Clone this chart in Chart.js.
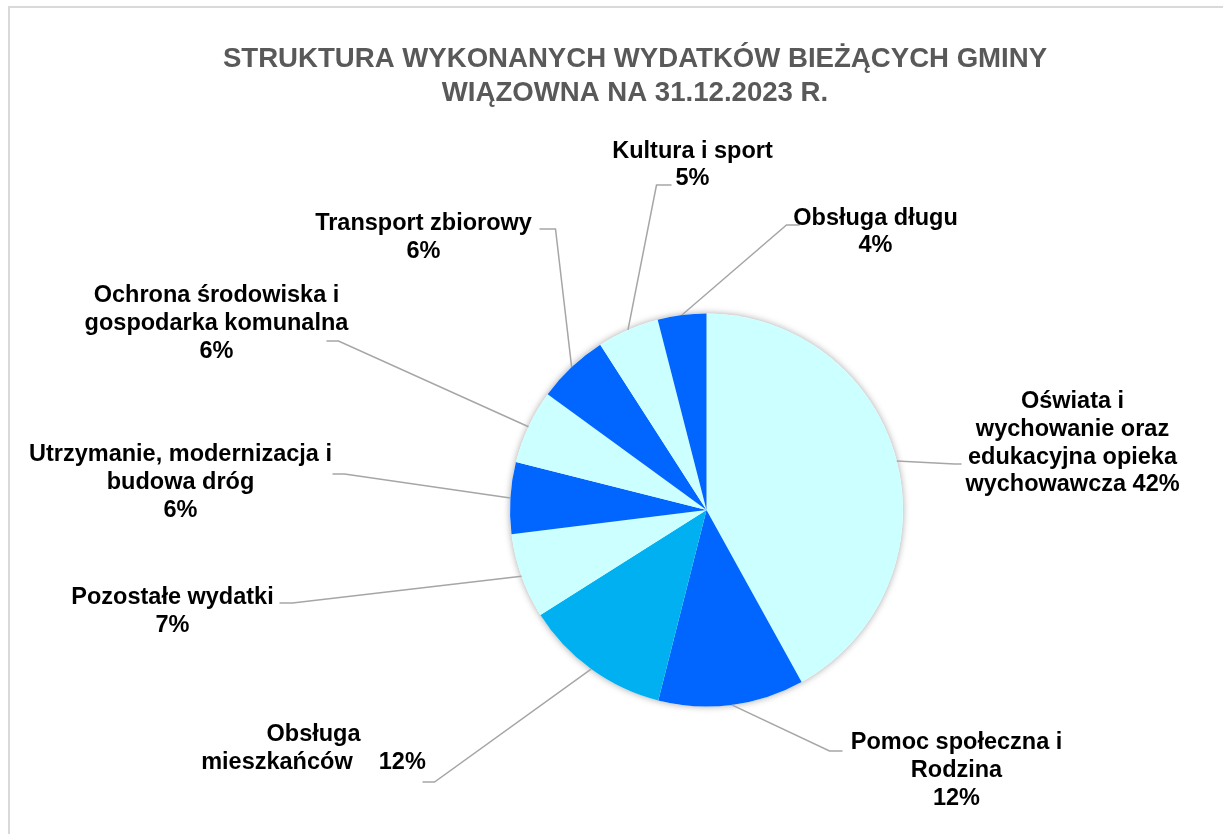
<!DOCTYPE html>
<html>
<head>
<meta charset="utf-8">
<title>Struktura wydatków bieżących – Gmina Wiązowna 2023</title>
<script src="https://cdn.jsdelivr.net/npm/chart.js@4.4.1/dist/chart.umd.min.js"></script>
<style>
    html, body { margin: 0; padding: 0; background: #fff; overflow: hidden; }
    #frame { position: absolute; left: 8px; top: 6px; width: 1300px; height: 900px; border: 2px solid #d9d9d9; box-sizing: border-box; }
    #chart { position: absolute; left: 0; top: 0; }
</style>
</head>
<body>
<div id="frame"></div>
<canvas id="chart" width="1223" height="834"></canvas>
<script>
// Chart title, two lines as in the original
const titleLines = ['STRUKTURA WYKONANYCH WYDATKÓW BIEŻĄCYCH GMINY', 'WIĄZOWNA NA 31.12.2023 R.'];

// Categories, wrapped the same way as the original data labels
const categories = [
    ['Oświata i', 'wychowanie oraz', 'edukacyjna opieka', 'wychowawcza'],
    ['Pomoc społeczna i', 'Rodzina'],
    ['Obsługa', 'mieszkańców'],
    ['Pozostałe wydatki'],
    ['Utrzymanie, modernizacja i', 'budowa dróg'],
    ['Ochrona środowiska i', 'gospodarka komunalna'],
    ['Transport zbiorowy'],
    ['Kultura i sport'],
    ['Obsługa długu']
];

// Share of current expenditure (%)
const shares = [42.0, 12.0, 12.1, 7.0, 5.9, 6.1, 5.9, 5.1, 4.0];

const sliceColors = ['#CCFFFF', '#0066FF', '#00B0F0', '#CCFFFF', '#0066FF', '#CCFFFF', '#0066FF', '#CCFFFF', '#0066FF'];

const labelFont = "bold 23.5px 'Liberation Sans', Arial, sans-serif";
const titleFont = "bold 27.6px 'Liberation Sans', Arial, sans-serif";
const lineH = 27.8;

// Label placement relative to the pie centre (px)
// tx/ty: text anchor (first baseline), pct: how the % joins the text (null = own line)
// ex/ey: leader elbow, hx: end of the short horizontal tick
const labelLayout = [
    { tx: 366, ty: -102, pct: ' ', ex: 248, ey: -46, hx: 255 },
    { tx: 250, ty: 239, pct: null, ex: 123, ey: 241, hx: 136 },
    { tx: -393, ty: 231, pct: '    ', ex: -272, ey: 272, hx: -284 },
    { tx: -534, ty: 94, pct: null, ex: -414, ey: 93, hx: -427 },
    { tx: -526, ty: -49, pct: null, ex: -362, ey: -36, hx: -374 },
    { tx: -490, ty: -208, pct: null, ex: -368, ey: -169, hx: -380 },
    { tx: -283, ty: -280, pct: null, ex: -151, ey: -281, hx: -167 },
    { tx: -14, ty: -352.5, pct: null, ex: -50, ey: -325, hx: -35 },
    { tx: 169, ty: -285.5, pct: null, ex: 80, ey: -285, hx: 93 }
];

// Soft shadow behind the whole pie
const pieShadow = {
    id: 'pieShadow',
    beforeDatasetsDraw(chart) {
        const arc = chart.getDatasetMeta(0).data[0];
        if (!arc) return;
        const ctx = chart.ctx;
        ctx.save();
        ctx.shadowColor = 'rgba(0, 0, 0, 0.35)';
        ctx.shadowBlur = 7;
        ctx.fillStyle = '#ffffff';
        ctx.beginPath();
        ctx.arc(arc.x, arc.y, arc.outerRadius, 0, Math.PI * 2);
        ctx.fill();
        ctx.restore();
    }
};

// Data labels with leader lines
const pieLabels = {
    id: 'pieLabels',
    afterDatasetsDraw(chart) {
        const ctx = chart.ctx;
        const total = shares.reduce((a, b) => a + b, 0);
        chart.getDatasetMeta(0).data.forEach((arc, i) => {
            const { x, y, startAngle, endAngle, outerRadius } = arc;
            const mid = (startAngle + endAngle) / 2;
            const L = labelLayout[i];

            ctx.save();
            ctx.strokeStyle = '#a6a6a6';
            ctx.lineWidth = 1.5;
            ctx.beginPath();
            ctx.moveTo(x + Math.cos(mid) * outerRadius, y + Math.sin(mid) * outerRadius);
            ctx.lineTo(x + L.ex, y + L.ey);
            ctx.lineTo(x + L.hx, y + L.ey);
            ctx.stroke();

            const pct = Math.round(shares[i] / total * 100) + '%';
            const lines = categories[i].slice();
            if (L.pct === null) lines.push(pct);
            else lines[lines.length - 1] += L.pct + pct;

            ctx.font = labelFont;
            ctx.fillStyle = '#000000';
            ctx.textAlign = 'center';
            ctx.textBaseline = 'alphabetic';
            lines.forEach((t, k) => ctx.fillText(t, x + L.tx, y + L.ty + k * lineH));
            ctx.restore();
        });
    }
};

// Title drawn over the full frame width (the pie sits right of centre)
const chartTitle = {
    id: 'chartTitle',
    afterDraw(chart) {
        const ctx = chart.ctx;
        ctx.save();
        ctx.font = titleFont;
        ctx.fillStyle = '#595959';
        ctx.textAlign = 'center';
        ctx.textBaseline = 'alphabetic';
        titleLines.forEach((t, k) => ctx.fillText(t, 635, 67 + k * 34));
        ctx.restore();
    }
};

const ctx = document.getElementById('chart').getContext('2d');
const expenseChart = new Chart(ctx, {
    type: 'pie',
    data: {
        labels: categories,
        datasets: [{
            data: shares,
            backgroundColor: sliceColors,
            borderWidth: 0,
            hoverOffset: 0
        }]
    },
    options: {
        responsive: false,
        animation: false,
        layout: { padding: { left: 510, right: 320, top: 313.5, bottom: 127.5 } },
        plugins: {
            legend: { display: false },
            tooltip: { enabled: false },
            title: { display: false }
        }
    },
    plugins: [pieShadow, pieLabels, chartTitle]
});
</script>
</body>
</html>
